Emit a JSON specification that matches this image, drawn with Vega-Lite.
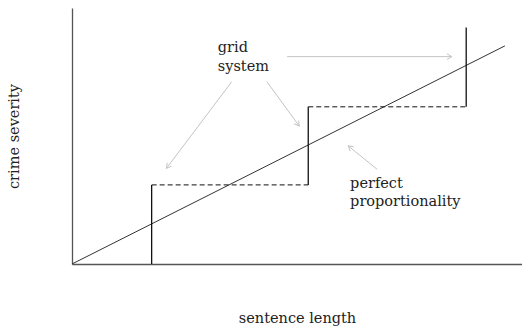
{
  "$schema": "https://vega.github.io/schema/vega-lite/v6.json",
  "width": 450,
  "height": 256,
  "autosize": "none",
  "padding": {"left": 72, "top": 8, "right": 0, "bottom": 67},
  "config": {
    "view": {"stroke": null},
    "font": "DejaVu Serif"
  },
  "datasets": {
    "diag": [{"x": 0, "y": 0}, {"x": 96.2, "y": 85.2}],
    "verticals": [
      {"x": 17.7, "y": 0, "y2": 30.9},
      {"x": 52.5, "y": 30.9, "y2": 61.4},
      {"x": 87.6, "y": 61.4, "y2": 92.4}
    ],
    "dashes": [
      {"y": 30.9, "x": 17.7, "x2": 52.5},
      {"y": 61.4, "x": 52.5, "x2": 87.6}
    ],
    "arrows": [
      {"x": 47.8, "y": 81.0, "x2": 84.4, "y2": 81.0, "angle": 0},
      {"x": 35.5, "y": 71.2, "x2": 21.0, "y2": 37.4, "angle": 127},
      {"x": 43.3, "y": 71.2, "x2": 50.5, "y2": 53.9, "angle": 54},
      {"x": 67.8, "y": 37.0, "x2": 61.4, "y2": 46.1, "angle": 219}
    ],
    "labels": [
      {"x": 32.4, "y": 82.9, "text": "grid"},
      {"x": 32.4, "y": 75.5, "text": "system"},
      {"x": 61.8, "y": 29.6, "text": "perfect"},
      {"x": 61.8, "y": 22.6, "text": "proportionality"}
    ]
  },
  "layer": [
    {
      "data": {"name": "diag"},
      "mark": {"type": "line", "color": "#333", "strokeWidth": 1},
      "encoding": {
        "x": {
          "field": "x", "type": "quantitative",
          "scale": {"domain": [0, 100], "nice": false},
          "axis": {
            "title": "sentence length", "labels": false, "ticks": false, "grid": false,
            "domainColor": "#555", "domainWidth": 1.3,
            "titleFont": "DejaVu Serif", "titleFontSize": 14.5, "titleFontWeight": "normal",
            "titleColor": "#222", "titleBaseline": "alphabetic", "titlePadding": 58
          }
        },
        "y": {
          "field": "y", "type": "quantitative",
          "scale": {"domain": [0, 100], "nice": false},
          "axis": {
            "title": "crime severity", "labels": false, "ticks": false, "grid": false,
            "domainColor": "#555", "domainWidth": 1.3,
            "titleFont": "DejaVu Serif", "titleFontSize": 14.5, "titleFontWeight": "normal",
            "titleColor": "#222", "titlePadding": 51
          }
        }
      }
    },
    {
      "data": {"name": "verticals"},
      "mark": {"type": "rule", "color": "#111", "strokeWidth": 1.3},
      "encoding": {
        "x": {"field": "x", "type": "quantitative"},
        "y": {"field": "y", "type": "quantitative"},
        "y2": {"field": "y2"}
      }
    },
    {
      "data": {"name": "dashes"},
      "mark": {"type": "rule", "color": "#111", "strokeWidth": 1, "strokeDash": [5, 3]},
      "encoding": {
        "y": {"field": "y", "type": "quantitative"},
        "x": {"field": "x", "type": "quantitative"},
        "x2": {"field": "x2"}
      }
    },
    {
      "data": {"name": "arrows"},
      "mark": {"type": "rule", "color": "#c4c4c4", "strokeWidth": 1},
      "encoding": {
        "x": {"field": "x", "type": "quantitative"},
        "y": {"field": "y", "type": "quantitative"},
        "x2": {"field": "x2"},
        "y2": {"field": "y2"}
      }
    },
    {
      "data": {"name": "arrows"},
      "mark": {
        "type": "point", "shape": "M-1.2,-0.7L0,0L-1.2,0.7", "filled": false,
        "color": "#c4c4c4", "strokeWidth": 1, "size": 64, "opacity": 1
      },
      "encoding": {
        "x": {"field": "x2", "type": "quantitative"},
        "y": {"field": "y2", "type": "quantitative"},
        "angle": {"field": "angle", "type": "quantitative", "scale": null}
      }
    },
    {
      "data": {"name": "labels"},
      "mark": {
        "type": "text", "align": "left", "baseline": "alphabetic",
        "font": "DejaVu Serif", "fontSize": 14.5, "color": "#222"
      },
      "encoding": {
        "x": {"field": "x", "type": "quantitative"},
        "y": {"field": "y", "type": "quantitative"},
        "text": {"field": "text"}
      }
    }
  ]
}
